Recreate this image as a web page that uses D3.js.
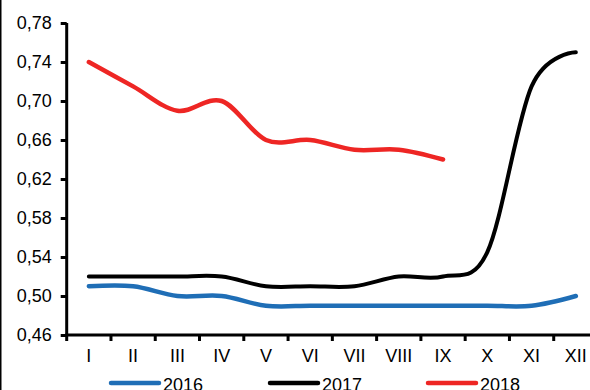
<!DOCTYPE html>
<html>
<head>
<meta charset="utf-8">
<script src="https://cdn.jsdelivr.net/npm/d3@7"></script>
<style>
  html, body { margin: 0; padding: 0; background: #fff; }
  svg { display: block; }
  text { font-family: "Liberation Sans", Arial, sans-serif; }
</style>
</head>
<body>
<svg id="chart" width="590" height="390"></svg>
<script>
const months = ["I","II","III","IV","V","VI","VII","VIII","IX","X","XI","XII"];
const yTicks = [0.46, 0.50, 0.54, 0.58, 0.62, 0.66, 0.70, 0.74, 0.78];
const values2016 = [0.51, 0.51, 0.50, 0.50, 0.49, 0.49, 0.49, 0.49, 0.49, 0.49, 0.49, 0.50];
const values2017 = [0.52, 0.52, 0.52, 0.52, 0.51, 0.51, 0.51, 0.52, 0.52, 0.545, 0.715, 0.75];
const values2018 = [0.74, 0.715, 0.69, 0.70, 0.66, 0.66, 0.65, 0.65, 0.64];
const seriesNames = ["2016", "2017", "2018"];
const seriesColors = ["#1f6eb6", "#000000", "#ee2624"];

const series = [values2016, values2017, values2018].map((v, i) => ({
  name: seriesNames[i], color: seriesColors[i], values: v
}));

const svg = d3.select("#chart");
const mLeft = 66.7, mRight = 598, mTop = 23, mBottom = 335;

const x = d3.scaleBand().domain(months).range([mLeft, mRight]).padding(0);
const y = d3.scaleLinear().domain([0.46, 0.78]).range([mBottom, mTop]);

// left border
svg.append("line").attr("x1", 0.75).attr("x2", 0.75).attr("y1", 0).attr("y2", 390)
  .attr("stroke", "#000").attr("stroke-width", 1.5);

// Y axis
const fmt = d => d3.format(".2f")(d).replace(".", ",");
const yAxis = svg.append("g").attr("transform", `translate(${mLeft},0)`)
  .call(d3.axisLeft(y).tickValues(yTicks).tickFormat(fmt).tickSize(6).tickPadding(9));
yAxis.select(".domain").attr("stroke", "#000").attr("stroke-width", 3)
  .attr("d", `M0,${mTop}V${mBottom}`);
yAxis.selectAll(".tick line").attr("stroke", "#000").attr("stroke-width", 3);
yAxis.selectAll(".tick text").attr("font-size", 18).attr("fill", "#000")
  .attr("font-family", "Liberation Sans, Arial, sans-serif");

// X axis
const xAxis = svg.append("g").attr("transform", `translate(0,${mBottom})`)
  .call(d3.axisBottom(x).tickSize(0).tickPadding(14));
xAxis.select(".domain").attr("stroke", "#000").attr("stroke-width", 3)
  .attr("d", `M${mLeft - 1.5},0H${590}`);
xAxis.selectAll(".tick text").attr("font-size", 18).attr("fill", "#000")
  .attr("font-family", "Liberation Sans, Arial, sans-serif");
xAxis.selectAll(".boundary").data(months).enter().append("line")
  .attr("x1", d => x(d)).attr("x2", d => x(d))
  .attr("y1", 0).attr("y2", 6)
  .attr("stroke", "#000").attr("stroke-width", 3);

// lines
const line = d3.line()
  .x((d, i) => x(months[i]) + x.bandwidth() / 2)
  .y(d => y(d))
  .curve(d3.curveCardinal.tension(0));

svg.selectAll(".series").data(series).enter().append("path")
  .attr("d", d => line(d.values))
  .attr("fill", "none")
  .attr("stroke", d => d.color)
  .attr("stroke-width", (d, i) => i === 1 ? 4 : 4.5)
  .attr("stroke-linecap", "round")
  .attr("stroke-linejoin", "round");

// legend
const legendX = [111, 270, 428];
const lg = svg.selectAll(".legend").data(series).enter().append("g")
  .attr("transform", (d, i) => `translate(${legendX[i]},383)`);
lg.append("line").attr("x1", 0).attr("x2", 48).attr("y1", 0).attr("y2", 0)
  .attr("stroke", d => d.color).attr("stroke-width", 4.5).attr("stroke-linecap", "round");
lg.append("text").attr("x", 52).attr("y", 8).attr("font-size", 18).attr("fill", "#000")
  .text(d => d.name);
</script>
</body>
</html>
